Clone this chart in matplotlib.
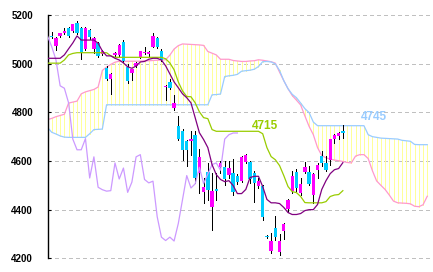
import numpy as np
import matplotlib
matplotlib.use("Agg")
import matplotlib.pyplot as plt

# -------------------------------
# Daily candles
# -------------------------------
opens = [5113, 5073, 5114, 5125, 5145, 5136, 5166, 5145, 5059, 5138,
         5059, 5084, 5040, 4981, 4938, 5036, 5036, 5091, 4988, 4963,
         4992, 5029, 5043, 5038, 5070, 5107, 5054, 4904, 4924, 4818,
         4742, 4722, 4681, 4683, 4708, 4551, 4471, 4553, 4412, 4482,
         4574, 4576, 4544, 4551, 4537, 4517, 4594, 4594, 4551, 4496,
         4496, 4291, 4230, 4323, 4226, 4312, 4403, 4476, 4553, 4469,
         4553, 4553, 4462, 4562, 4619, 4592, 4603, 4690, 4704, 4723]
highs = [5132, 5110, 5128, 5145, 5150, 5165, 5175, 5150, 5150, 5142,
         5110, 5090, 5055, 4990, 4960, 5046, 5080, 5098, 5000, 4980,
         5006, 5052, 5070, 5050, 5125, 5110, 5060, 4912, 4935, 4872,
         4786, 4730, 4688, 4722, 4722, 4650, 4531, 4590, 4551, 4551,
         4598, 4600, 4600, 4610, 4545, 4620, 4630, 4600, 4560, 4530,
         4500, 4295, 4305, 4373, 4300, 4345, 4445, 4560, 4565, 4530,
         4595, 4580, 4552, 4590, 4640, 4620, 4692, 4710, 4718, 4749]
lows = [5104, 5057, 5110, 5122, 5110, 5132, 5120, 5020, 5055, 5100,
        5045, 5028, 5035, 4933, 4877, 5032, 5030, 5005, 4920, 4933,
        4988, 5025, 5040, 5032, 5068, 5066, 5010, 4851, 4895, 4810,
        4688, 4605, 4578, 4626, 4510, 4470, 4429, 4440, 4318, 4440,
        4551, 4500, 4530, 4460, 4505, 4515, 4590, 4510, 4430, 4490,
        4359, 4285, 4220, 4275, 4215, 4278, 4390, 4470, 4475, 4460,
        4550, 4500, 4428, 4530, 4580, 4560, 4585, 4674, 4690, 4694]
closes = [5109, 5104, 5125, 5134, 5115, 5162, 5125, 5043, 5148, 5111,
          5104, 5032, 5050, 4938, 4958, 5042, 5077, 5009, 4927, 4977,
          5004, 5050, 5048, 5046, 5114, 5070, 5016, 4909, 4899, 4839,
          4690, 4646, 4646, 4692, 4530, 4617, 4492, 4482, 4476, 4478,
          4592, 4526, 4571, 4471, 4513, 4617, 4626, 4524, 4510, 4517,
          4371, 4287, 4273, 4287, 4271, 4343, 4441, 4540, 4489, 4506,
          4574, 4507, 4547, 4585, 4592, 4562, 4690, 4708, 4715, 4715]

# Ichimoku lines, one value per bar, starting one bar left of the first candle
tenkan = [5022, 5022, 5022, 5022, 5036, 5061, 5085, 5114, 5097, 5097,
          5097, 5097, 5084, 5052, 5032, 5032, 5022, 5015, 5003, 4987,
          4981, 4990, 5007, 5009, 5018, 5022, 5022, 5015, 4991, 4958,
          4925, 4901, 4876, 4860, 4839, 4778, 4716, 4688, 4655, 4585,
          4544, 4524, 4515, 4519, 4499, 4466, 4466, 4483, 4532, 4537,
          4537, 4495, 4442, 4428, 4428, 4425, 4409, 4388, 4380, 4380,
          4384, 4396, 4400, 4400, 4421, 4483, 4519, 4548, 4564, 4569,
          4593]
kijun = [5002, 5002, 5002, 5002, 5015, 5036, 5042, 5045, 5045, 5045,
         5045, 5045, 5045, 5045, 5045, 5032, 5026, 5026, 5026, 5026,
         5026, 5026, 5026, 5026, 5026, 5026, 5026, 5026, 5020, 5003,
         4975, 4925, 4888, 4865, 4864, 4839, 4802, 4778, 4774, 4729,
         4722, 4722, 4722, 4722, 4722, 4722, 4722, 4722, 4722, 4722,
         4722, 4712, 4655, 4618, 4605, 4581, 4540, 4495, 4474, 4470,
         4454, 4429, 4428, 4428, 4428, 4428, 4433, 4454, 4460, 4462,
         4478]

# leading spans (already shifted forward), from one bar left of the first candle
span_a = [4770, 4775, 4782, 4787, 4792, 4838, 4842, 4846, 4876, 4884,
          4889, 4894, 4904, 4972, 4986, 4997, 5006, 5010, 5010, 5010,
          5010, 5010, 5010, 5012, 5012, 5013, 5014, 5015, 5016, 5035,
          5060, 5074, 5081, 5080, 5079, 5078, 5077, 5075, 5050, 5043,
          5036, 5018, 5018, 5018, 5013, 5011, 5009, 5009, 5011, 5012,
          5016, 5014, 5011, 5008, 5002, 4965, 4930, 4897, 4869, 4850,
          4830, 4785, 4742, 4708, 4655, 4622, 4613, 4608, 4604, 4601,
          4598, 4594, 4592, 4620, 4626, 4626, 4610, 4560, 4518, 4500,
          4483, 4460, 4435, 4428, 4427, 4426, 4424, 4414, 4412, 4420,
          4455]
span_b = [4738, 4718, 4711, 4703, 4698, 4697, 4697, 4697, 4697, 4697,
          4712, 4729, 4730, 4731, 4831, 4831, 4831, 4831, 4831, 4831,
          4831, 4831, 4831, 4831, 4831, 4831, 4831, 4831, 4831, 4831,
          4831, 4831, 4831, 4831, 4831, 4831, 4831, 4831, 4831, 4872,
          4873, 4875, 4947, 4950, 4952, 4956, 4969, 4971, 4973, 4977,
          4988, 5008, 5009, 5007, 4999, 4972, 4930, 4897, 4874, 4860,
          4838, 4815, 4799, 4760, 4745, 4745, 4745, 4745, 4745, 4745,
          4745, 4745, 4745, 4745, 4745, 4745, 4708, 4700, 4697, 4694,
          4693, 4692, 4691, 4690, 4685, 4683, 4681, 4668, 4667, 4667,
          4667]

LAG = 25          # lagging span is drawn 25 bars back
label_kijun = "4715"
label_span = "4745"
yticks = [4200, 4400, 4600, 4800, 5000, 5200]

opens = np.array(opens); highs = np.array(highs)
lows = np.array(lows); closes = np.array(closes)
x = np.arange(len(closes))
x_line = np.arange(len(tenkan)) - 1
x_span = np.arange(len(span_a)) - 1
lag = closes[LAG - 1:]
x_lag = np.arange(len(lag)) - 1

plt.rcParams['font.family'] = ['Liberation Sans', 'DejaVu Sans']

fig = plt.figure(figsize=(4.33, 2.72), dpi=100)
ax = fig.add_axes([48 / 433, 0, 385 / 433, 1])

# cloud: vertical yellow hatching between the spans
sa = np.array(span_a); sb = np.array(span_b)
ax.vlines(x_span, np.minimum(sa, sb), np.maximum(sa, sb),
          color='#ffff99', lw=0.5, antialiased=False, zorder=1)
ax.plot(x_span, sa, color='#ff99cc', lw=0.9, zorder=2)
ax.plot(x_span, sb, color='#99ccff', lw=0.9, zorder=2)

# candles
up = closes >= opens
ax.vlines(x, lows, highs, color='black', lw=0.5, antialiased=False, zorder=3)
body_lo = np.minimum(opens, closes)
body_h = np.maximum(np.abs(closes - opens), 5)
ax.bar(x, body_h, bottom=body_lo, width=0.8,
       color=np.where(up, '#ff00ff', '#00ccff'), linewidth=0, zorder=4)

# lines
ax.plot(x_lag, lag, color='#cc99ff', lw=0.9, zorder=5)
ax.plot(x_line, kijun, color='#99cc00', lw=0.9, zorder=6)
ax.plot(x_line, tenkan, color='#800080', lw=0.9, zorder=6)

ax.text(50.5, 4745, label_kijun, color='#99cc00', fontsize=8.5,
        fontweight='bold', ha='center', va='center', zorder=7)
ax.text(76.3, 4782, label_span, color='#99ccff', fontsize=8.5,
        fontweight='bold', ha='center', va='center', zorder=7)

ax.set_xlim(-0.877, 90.36)
ax.set_ylim(4143.7, 5261.6)
ax.set_yticks(yticks)
ax.set_yticklabels([str(v) for v in yticks], fontsize=7, fontweight='bold')
ax.set_xticks([])
ax.tick_params(axis='y', direction='in', length=2.5, width=0.8, pad=10.8)
ax.yaxis.grid(True, color='#c0c0c0', linestyle=(0, (3, 3)), lw=0.75,
              antialiased=False, zorder=0)
ax.set_axisbelow(True)
for s in ['top', 'right', 'bottom']:
    ax.spines[s].set_visible(False)
ax.spines['left'].set_bounds(4200, 5200)
ax.spines['left'].set_linewidth(1.0)
ax.patch.set_alpha(0)

fig.savefig('out.png', dpi=100)
